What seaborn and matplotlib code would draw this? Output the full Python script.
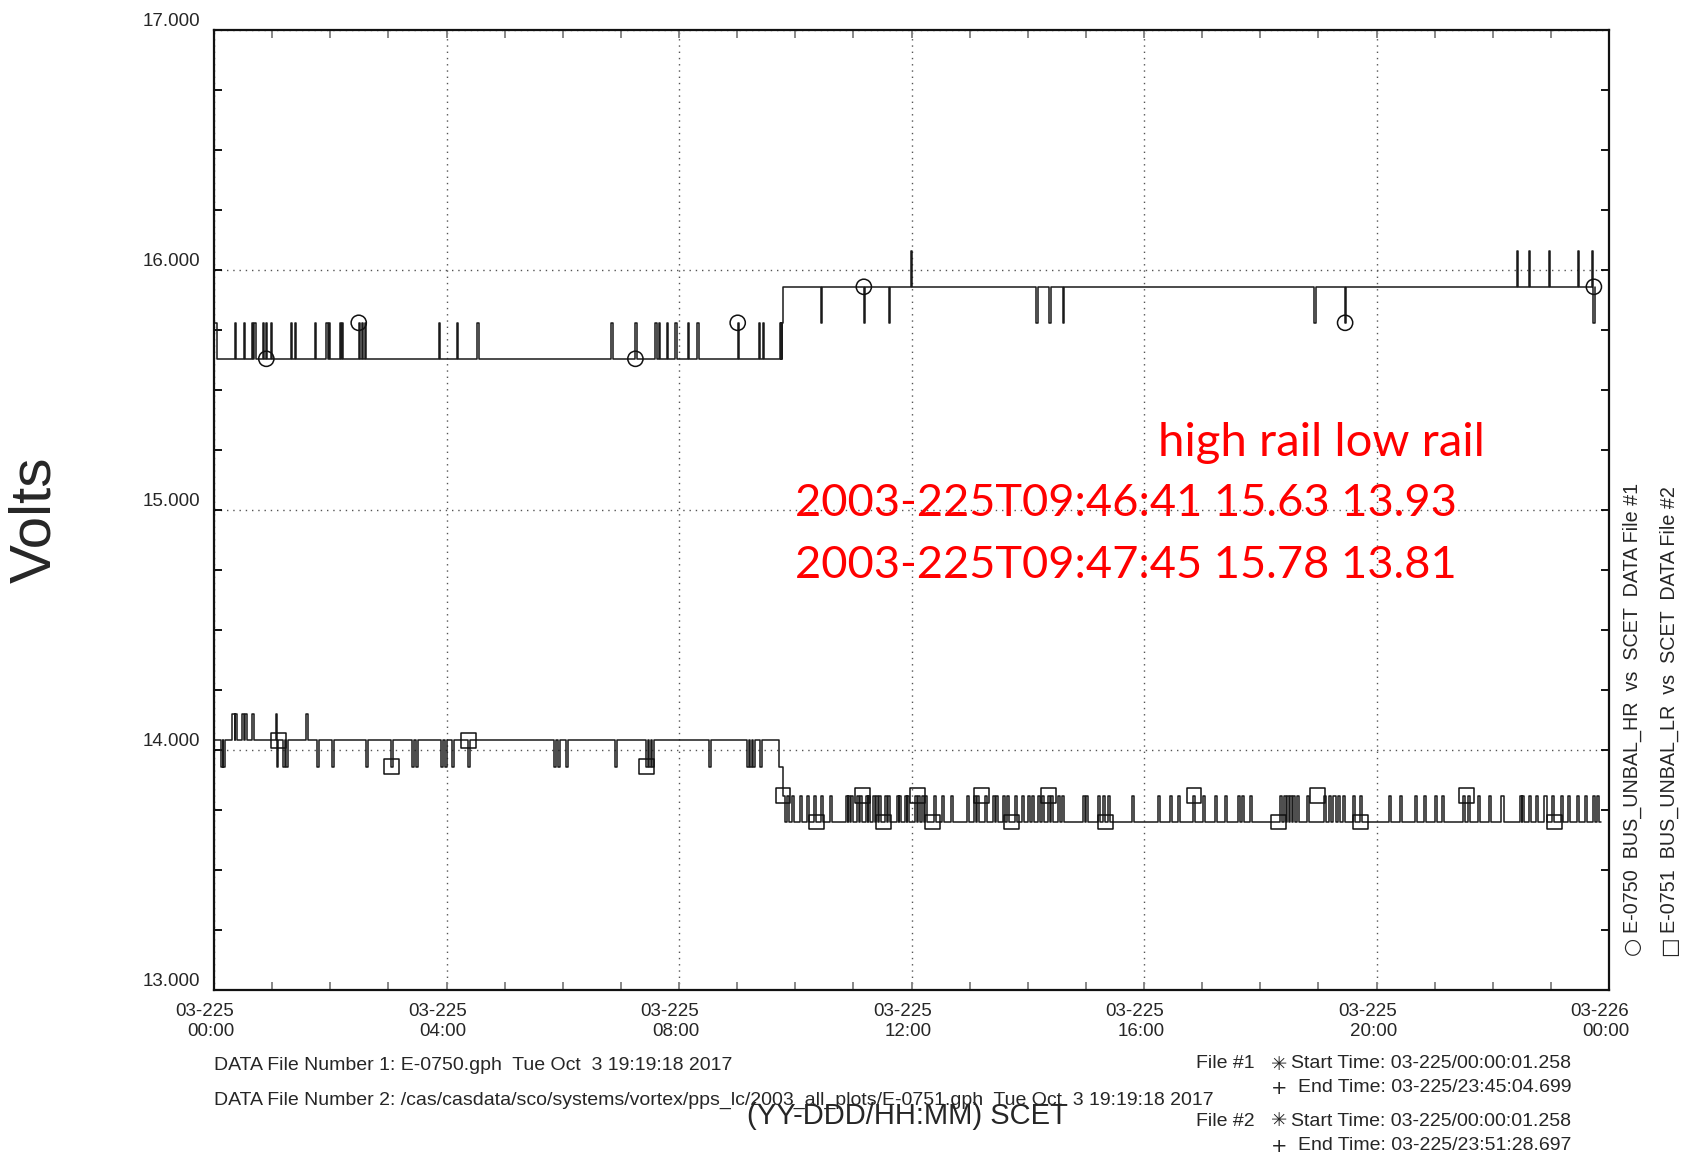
import numpy as np
import pandas as pd
import seaborn as sns
import matplotlib.pyplot as plt
from matplotlib.transforms import ScaledTranslation

# times are hours after 03-225 00:00 SCET
# high rail (E-0750 BUS_UNBAL_HR)
hr_base_t = [0.0, 0.05, 9.779, 9.796]
hr_base_v = [15.78, 15.63, 15.78, 15.93]
hr_end = 23.751
hr_to_1578 = [0.365, 0.516, 0.649, 0.694, 0.845, 0.891, 0.977, 1.320, 1.392, 1.734,
              1.932, 1.978, 2.163, 2.196, 2.49, 2.55, 2.60, 3.874, 4.183, 4.532,
              6.836, 7.251, 7.594, 7.659, 7.791, 7.935, 8.153, 8.318, 9.009, 9.371,
              9.437, 9.733, 9.755,
              10.44, 11.18, 11.61, 14.15, 14.37, 14.60, 18.93, 19.46, 23.73]
hr_to_1608 = [11.99, 22.41, 22.62, 22.96, 23.46, 23.70]
hr_mark_t = [0.90, 2.49, 7.25, 9.01, 11.18, 19.46, 23.74]
hr_mark_v = [15.63, 15.78, 15.63, 15.78, 15.93, 15.78, 15.93]

# low rail (E-0751 BUS_UNBAL_LR)
lr_base_t = [0.0, 9.72, 9.796, 9.83]
lr_base_v = [14.04, 13.93, 13.81, 13.70]
lr_end = 23.858
lr_to_1415 = [0.318, 0.365, 0.483, 0.530, 0.649, 1.06, 1.59]
lr_to_1393 = [0.12, 0.16, 1.09, 1.18, 1.24, 1.767, 2.03, 2.62, 3.05, 3.41, 3.48,
              3.91, 3.97, 4.10, 4.37, 5.85, 5.91, 6.05, 6.90, 7.43, 7.48, 7.53,
              8.52, 9.17, 9.22, 9.27, 9.40]
lr_to_1381 = [9.853, 9.938, 10.082, 10.208, 10.323, 10.438, 10.472, 10.598,
              10.868, 10.913, 10.959, 11.068, 11.114, 11.217, 11.257, 11.344,
              11.39, 11.436, 11.544, 11.601, 11.745, 11.79, 11.888, 11.928,
              12.06, 12.117, 12.175, 12.232, 12.387, 12.53, 12.674, 12.708,
              12.96, 13.075, 13.132, 13.264, 13.396, 13.453, 13.568, 13.637,
              13.78, 13.896, 14.01, 14.068, 14.171, 14.24, 14.354, 14.394,
              14.525, 14.584, 14.944, 15.002, 15.214, 15.289, 15.386, 15.80,
              16.246, 16.447, 16.59, 16.849, 17.02, 17.222, 17.394, 17.623,
              17.681, 17.824, 18.34, 18.40, 18.455, 18.51, 18.57, 18.63, 18.80,
              19.10, 19.18, 19.26, 19.34, 19.42, 19.59, 19.72, 20.22, 20.40,
              20.67, 20.81, 21.0, 21.12, 21.48, 21.57, 21.75, 21.93, 22.15,
              22.47, 22.51, 22.62, 22.75, 22.89, 23.02, 23.17, 23.30, 23.45,
              23.59, 23.72, 23.80]
lr_mark_t = [1.117, 3.054, 4.383, 7.446, 9.79, 10.36, 11.15, 11.52, 12.10, 12.36,
             13.21, 13.72, 14.35, 15.33, 16.86, 18.32, 18.98, 19.72, 21.55, 23.06]
lr_mark_v = [14.04, 13.93, 14.04, 13.93, 13.81, 13.70, 13.81, 13.70, 13.81, 13.70,
             13.81, 13.70, 13.81, 13.70, 13.81, 13.70, 13.81, 13.70, 13.81, 13.70]

x_ticks = [0, 4, 8, 12, 16, 20, 24]
x_labels = ['03-225\n00:00', '03-225\n04:00', '03-225\n08:00', '03-225\n12:00',
            '03-225\n16:00', '03-225\n20:00', '03-226\n00:00']
y_ticks = [13, 14, 15, 16, 17]
y_labels = ['13.000', '14.000', '15.000', '16.000', '17.000']


def build(base_t, base_v, spikes, t_end, w):
    pts = list(zip(base_t, base_v))
    for level, times in spikes:
        for t in times:
            b = base_v[np.searchsorted(base_t, t + w, side='right') - 1]
            pts.append((t, level))
            pts.append((t + w, b))
    pts.sort()
    pts.append((t_end, pts[-1][1]))
    return pd.DataFrame(pts, columns=['t', 'v'])


hr = build(hr_base_t, hr_base_v, [(15.78, hr_to_1578), (16.08, hr_to_1608)], hr_end, 0.022)
lr = build(lr_base_t, lr_base_v, [(14.15, lr_to_1415), (13.93, lr_to_1393), (13.81, lr_to_1381)],
           lr_end, 0.035)

sns.set_style('ticks')
plt.rcParams['font.family'] = ['Liberation Sans', 'DejaVu Sans']

W, H = 1682, 1159
fig = plt.figure(figsize=(W / 100, H / 100), dpi=100)
ax = fig.add_axes([214 / W, 1 - 990 / H, (1609 - 214) / W, (990 - 30) / H])


def px(x, y):
    return x / W, 1 - y / H


sns.lineplot(data=hr, x='t', y='v', drawstyle='steps-post', estimator=None, sort=False,
             color='#1a1a1a', lw=1.1, ax=ax)
sns.lineplot(data=lr, x='t', y='v', drawstyle='steps-post', estimator=None, sort=False,
             color='#1a1a1a', lw=1.1, ax=ax)
sns.scatterplot(x=hr_mark_t, y=hr_mark_v, marker='o', s=120, facecolors='none',
                edgecolor='#111111', linewidth=1.1, ax=ax, zorder=5)
sns.scatterplot(x=lr_mark_t, y=lr_mark_v, marker='s', s=115, facecolors='none',
                edgecolor='#111111', linewidth=1.1, ax=ax, zorder=5)

ax.set_xlim(0, 24)
ax.set_ylim(13, 17)
ax.set_xlabel('')
ax.set_ylabel('')
ax.set_xticks(x_ticks)
ax.set_xticklabels(x_labels, fontsize=13.5, linespacing=1.3, multialignment='right')
ax.set_xticks(range(25), minor=True)
ax.set_yticks(y_ticks)
ax.set_yticklabels(y_labels, fontsize=13.5)
ax.set_yticks(np.arange(13, 17.01, 0.25), minor=True)
ax.tick_params(axis='x', which='both', direction='in', top=True, bottom=True,
               length=6, width=1.4, color='#888888', pad=9)
ax.tick_params(axis='y', which='both', direction='in', left=True, right=True,
               length=6, width=1.3, color='black', pad=10)
for lab in ax.get_xticklabels():
    lab.set_transform(lab.get_transform() + ScaledTranslation(-9 / 100, 0, fig.dpi_scale_trans))
for lab in ax.get_yticklabels():
    lab.set_transform(lab.get_transform() + ScaledTranslation(0, 10 / 100, fig.dpi_scale_trans))
ax.grid(True, which='major', color='#555555', ls=(0, (1, 3.5)), lw=1.0)
for sp in ax.spines.values():
    sp.set_linewidth(1.6)
    sp.set_color('#111111')

# annotations
fig.text(*px(35, 520), 'Volts', fontsize=42, rotation=90, ha='center', va='center')
fig.text(*px(1158, 443), 'high rail low rail', color='red', fontsize=34,
         family='Lato', ha='left', va='center')
fig.text(*px(795, 504), '2003-225T09:46:41 15.63 13.93', color='red', fontsize=32.6,
         family='Lato', ha='left', va='center')
fig.text(*px(795, 565), '2003-225T09:47:45 15.78 13.81', color='red', fontsize=32.6,
         family='Lato', ha='left', va='center')

# rotated legend on the right
for x, sym, txt in [(1632, '\u25cb', 'E-0750  BUS_UNBAL_HR  vs  SCET  DATA File #1'),
                    (1669, '\u25a1', 'E-0751  BUS_UNBAL_LR  vs  SCET  DATA File #2')]:
    fig.text(*px(x, 946), sym, fontsize=15, rotation=90, ha='center', va='center',
             family=['DejaVu Sans'])
    fig.text(*px(x, 933), txt, fontsize=14.2, rotation=90, ha='center', va='bottom')

fig.text(*px(214, 1066), 'DATA File Number 1: E-0750.gph  Tue Oct  3 19:19:18 2017',
         fontsize=14, ha='left', va='center')
fig.text(*px(214, 1100), 'DATA File Number 2: /cas/casdata/sco/systems/vortex/pps_lc/'
         '2003_all_plots/E-0751.gph  Tue Oct  3 19:19:18 2017',
         fontsize=14, ha='left', va='center')
fig.text(*px(907, 1116), '(YY-DDD/HH:MM) SCET', fontsize=21, ha='center', va='center')

rows = [(1064, 'File #1', '\u2733', 'Start Time: 03-225/00:00:01.258'),
        (1088, '', '+', 'End Time: 03-225/23:45:04.699'),
        (1121, 'File #2', '\u2733', 'Start Time: 03-225/00:00:01.258'),
        (1146, '', '+', 'End Time: 03-225/23:51:28.697')]
for y, lead, sym, txt in rows:
    if lead:
        fig.text(*px(1255, y), lead, fontsize=14, ha='right', va='center')
    fig.text(*px(1279, y), sym, fontsize=14, ha='center', va='center',
             family=['DejaVu Sans'])
    fig.text(*px(1571, y), txt, fontsize=14, ha='right', va='center')

fig.savefig('out.png', dpi=100)
